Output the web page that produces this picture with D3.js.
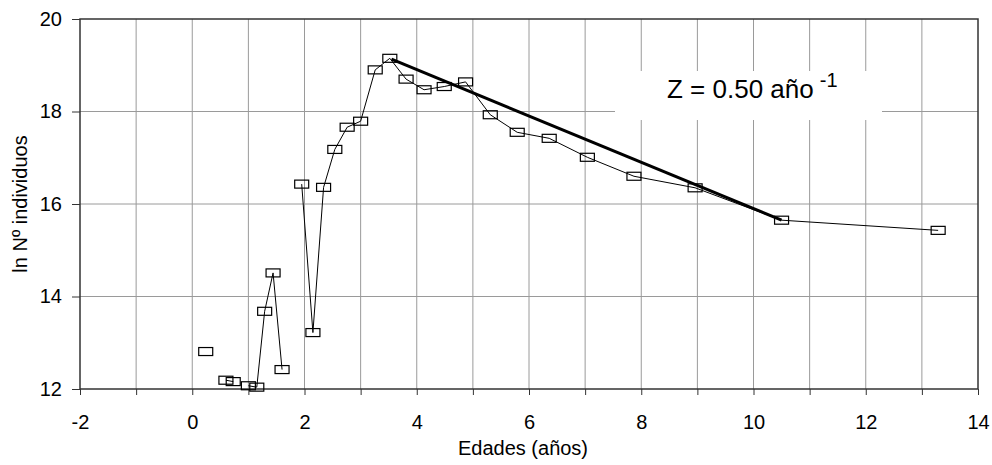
<!DOCTYPE html>
<html>
<head>
<meta charset="utf-8">
<script src="https://cdn.jsdelivr.net/npm/d3@7"></script>
<style>
  body { margin: 0; background: #fff; }
  svg { display: block; }
</style>
</head>
<body>
<svg width="992" height="465"></svg>
<script>
  // edades (años) y ln Nº individuos; null corta la línea
  const ages = [0.24, null, 0.60, 0.73, null, 1.00, 1.15, 1.29, 1.44, 1.60, null,
    1.95, 2.15, 2.34, 2.54, 2.76, 3.00, 3.26, 3.52, 3.81, 4.13, 4.49, 4.87,
    5.31, 5.79, 6.36, 7.04, 7.87, 8.96, 10.50, 13.29];
  const lnN = [12.81, null, 12.19, 12.16, null, 12.07, 12.04, 13.68, 14.51, 12.42, null,
    16.43, 13.22, 16.36, 17.18, 17.66, 17.79, 18.90, 19.15, 18.70, 18.47, 18.54, 18.64,
    17.93, 17.55, 17.42, 17.01, 16.60, 16.35, 15.65, 15.43];

  // recta de regresión (rama descendente)
  const fitAges = [3.55, 10.50];
  const fitLnN = [19.13, 15.65];

  const xTicks = [-2, 0, 2, 4, 6, 8, 10, 12, 14];
  const xMinor = d3.range(-2, 15, 1);
  const yTicks = [12, 14, 16, 18, 20];

  const font = '"Liberation Sans", Arial, sans-serif';

  const svg = d3.select('svg').attr('font-family', font);
  const margin = { top: 19, right: 14, bottom: 76, left: 80 };
  const width = +svg.attr('width');
  const height = +svg.attr('height');
  const innerWidth = width - margin.left - margin.right;
  const innerHeight = height - margin.top - margin.bottom;

  const xScale = d3.scaleLinear().domain([-2, 14]).range([0, innerWidth]);
  const yScale = d3.scaleLinear().domain([12, 20]).range([innerHeight, 0]);

  const g = svg.append('g')
    .attr('transform', `translate(${margin.left},${margin.top})`);

  // grid
  g.append('g').selectAll('line').data(xMinor.slice(1, -1)).join('line')
    .attr('x1', d => xScale(d)).attr('x2', d => xScale(d))
    .attr('y1', 0).attr('y2', innerHeight)
    .attr('stroke', '#9a9a9a').attr('stroke-width', 1);
  g.append('g').selectAll('line').data(yTicks.slice(1, -1)).join('line')
    .attr('x1', 0).attr('x2', innerWidth)
    .attr('y1', d => yScale(d)).attr('y2', d => yScale(d))
    .attr('stroke', '#9a9a9a').attr('stroke-width', 1);

  // caja del texto Z
  g.append('rect')
    .attr('x', 535).attr('y', 52)
    .attr('width', 267).attr('height', 49)
    .attr('fill', '#fff');

  g.append('rect')
    .attr('width', innerWidth).attr('height', innerHeight)
    .attr('fill', 'none').attr('stroke', '#333').attr('stroke-width', 1.5);

  // axes
  const xAxisG = g.append('g')
    .attr('transform', `translate(0,${innerHeight})`)
    .call(d3.axisBottom(xScale).tickValues(xMinor).tickSize(6).tickPadding(20)
      .tickFormat(d => xTicks.includes(d) ? d : ''))
    .attr('font-family', font).attr('font-size', 20);
  xAxisG.select('.domain').remove();
  xAxisG.selectAll('.tick line').attr('stroke', '#333');
  xAxisG.selectAll('.tick text').attr('fill', '#000')
    .filter(d => !xTicks.includes(d)).remove();

  const yAxisG = g.append('g')
    .call(d3.axisLeft(yScale).tickValues(yTicks).tickSize(8).tickPadding(10))
    .attr('font-family', font).attr('font-size', 20);
  yAxisG.select('.domain').remove();
  yAxisG.selectAll('.tick line').attr('stroke', '#333');
  yAxisG.selectAll('.tick text').attr('fill', '#000');

  g.append('text')
    .attr('x', innerWidth / 2 - 6).attr('y', innerHeight + 66)
    .attr('fill', '#000').attr('font-size', 20)
    .attr('text-anchor', 'middle')
    .text('Edades (años)');

  svg.append('text')
    .attr('transform', `translate(27,${margin.top + innerHeight / 2}) rotate(-90)`)
    .attr('fill', '#000').attr('font-size', 20)
    .attr('text-anchor', 'middle')
    .text('ln Nº individuos');

  // data
  const pts = ages.map((a, i) => ({ x: a, y: lnN[i] }));

  const lineGen = d3.line()
    .defined(d => d.x !== null && d.y !== null)
    .x(d => xScale(d.x))
    .y(d => yScale(d.y));

  g.append('path')
    .attr('d', lineGen(pts))
    .attr('fill', 'none').attr('stroke', '#000').attr('stroke-width', 1);

  g.append('g').selectAll('rect')
    .data(pts.filter(d => d.x !== null))
    .join('rect')
      .attr('x', d => xScale(d.x) - 7)
      .attr('y', d => yScale(d.y) - 4)
      .attr('width', 14).attr('height', 8)
      .attr('fill', 'none').attr('stroke', '#000').attr('stroke-width', 1.2);

  g.append('path')
    .attr('d', lineGen(fitAges.map((a, i) => ({ x: a, y: fitLnN[i] }))))
    .attr('fill', 'none').attr('stroke', '#000').attr('stroke-width', 3);

  const zText = g.append('text')
    .attr('x', 587).attr('y', 79)
    .attr('fill', '#000').attr('font-size', 26);
  zText.append('tspan').text('Z = 0.50 año');
  zText.append('tspan').attr('dx', 6).attr('dy', -11).attr('font-size', 20).text('-1');
</script>
</body>
</html>
